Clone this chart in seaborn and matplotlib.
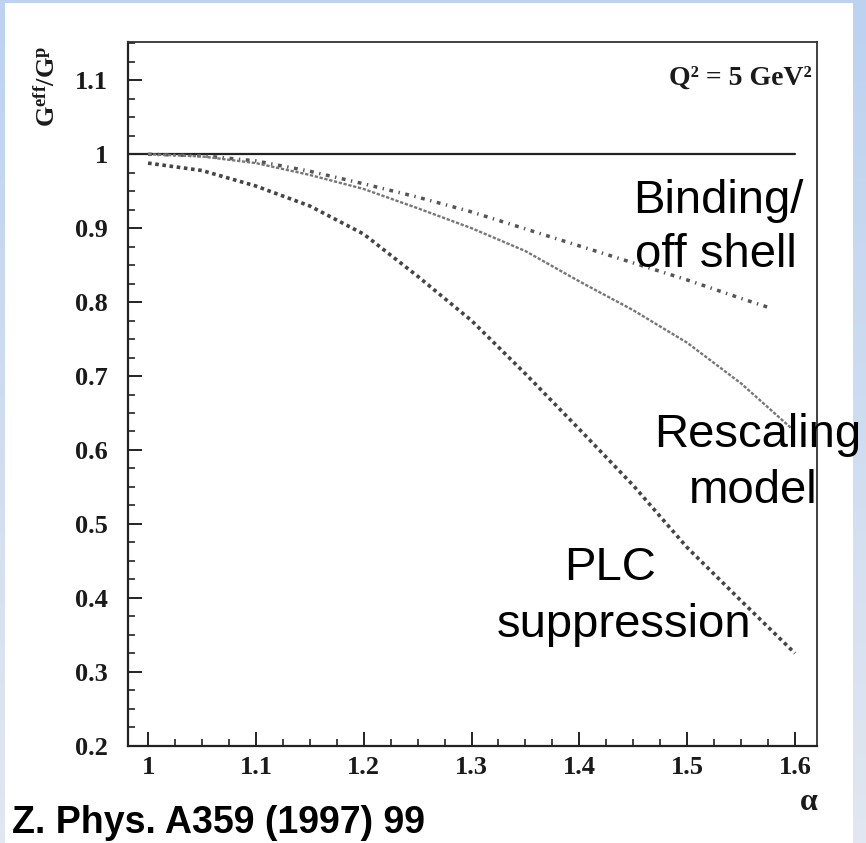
import numpy as np
import pandas as pd
import matplotlib
matplotlib.use("Agg")
import matplotlib.pyplot as plt
import seaborn as sns
from matplotlib.patches import Rectangle
from matplotlib.colors import LinearSegmentedColormap
from matplotlib.ticker import FixedLocator, FixedFormatter, MultipleLocator

# ---------------- data ----------------
alpha = [1.0, 1.05, 1.1, 1.15, 1.2, 1.25, 1.3, 1.35, 1.4, 1.45, 1.5, 1.55, 1.6]
rescaling = [1.0, 0.997, 0.988, 0.972, 0.953, 0.927, 0.900, 0.869, 0.828, 0.789, 0.745, 0.690, 0.625]
plc = [0.988, 0.978, 0.957, 0.930, 0.892, 0.835, 0.775, 0.703, 0.628, 0.552, 0.468, 0.396, 0.325]

alpha_binding = [1.0, 1.05, 1.1, 1.15, 1.2, 1.25, 1.3, 1.35, 1.4, 1.45, 1.5, 1.55, 1.575]
binding = [1.0, 0.998, 0.991, 0.977, 0.960, 0.942, 0.922, 0.899, 0.876, 0.853, 0.830, 0.805, 0.793]

ref_x = [0.98, 1.6]
ref_y = [1.0, 1.0]

xticks = [1.0, 1.1, 1.2, 1.3, 1.4, 1.5, 1.6]
xticklabels = ["1", "1.1", "1.2", "1.3", "1.4", "1.5", "1.6"]
yticks = [0.2, 0.3, 0.4, 0.5, 0.6, 0.7, 0.8, 0.9, 1.0, 1.1]
yticklabels = ["0.2", "0.3", "0.4", "0.5", "0.6", "0.7", "0.8", "0.9", "1", "1.1"]

# ---------------- style ----------------
sns.set_style("ticks")
plt.rcParams["font.family"] = ["Liberation Serif", "DejaVu Serif"]
plt.rcParams["mathtext.fontset"] = "custom"
plt.rcParams["mathtext.rm"] = "Liberation Serif:bold"
plt.rcParams["mathtext.bf"] = "Liberation Serif:bold"
plt.rcParams["mathtext.it"] = "Liberation Serif:bold:italic"

W, H = 866, 843
fig = plt.figure(figsize=(W / 100, H / 100), dpi=100)

# background: light blue gradient frame with white panel
bg = fig.add_axes([0, 0, 1, 1], zorder=-10)
grad = np.linspace(0, 1, 256)[:, None]
cmap = LinearSegmentedColormap.from_list("bg", ["#bcd2f0", "#e2e7f1"])
bg.imshow(grad, aspect="auto", cmap=cmap, extent=[0, 1, 0, 1], origin="upper")
bg.add_patch(Rectangle((5 / W, 0), 848 / W, 840 / H, transform=bg.transAxes,
                       facecolor="white", edgecolor="none"))
bg.set_xlim(0, 1)
bg.set_ylim(0, 1)
bg.axis("off")

# main axes
x0, x1 = 128, 817
y0, y1 = 42.3, 745.7
ax = fig.add_axes([x0 / W, (H - y1) / H, (x1 - x0) / W, (y1 - y0) / H])
ax.set_facecolor("none")

df_main = pd.DataFrame({"alpha": alpha, "Rescaling": rescaling, "PLC": plc})
df_bind = pd.DataFrame({"alpha": alpha_binding, "Binding": binding})
df_ref = pd.DataFrame({"alpha": ref_x, "ref": ref_y})

sns.lineplot(data=df_ref, x="alpha", y="ref", ax=ax, color="#222222", lw=1.6)
sns.lineplot(data=df_bind, x="alpha", y="Binding", ax=ax, color="#555555", lw=2.5,
             linestyle=(0, (1.1, 1.6, 0.4, 1.6)))
sns.lineplot(data=df_main, x="alpha", y="Rescaling", ax=ax, color="#777777", lw=1.7,
             linestyle=(0, (1.4, 0.7)))
sns.lineplot(data=df_main, x="alpha", y="PLC", ax=ax, color="#454545", lw=2.6,
             linestyle=(0, (1.0, 1.0)))

ax.set_xlim(0.9814, 1.6204)
ax.set_ylim(0.2, 1.1514)
ax.set_xlabel("")
ax.set_ylabel("")

ax.xaxis.set_major_locator(FixedLocator(xticks))
ax.xaxis.set_major_formatter(FixedFormatter(xticklabels))
ax.yaxis.set_major_locator(FixedLocator(yticks))
ax.yaxis.set_major_formatter(FixedFormatter(yticklabels))
ax.xaxis.set_minor_locator(MultipleLocator(0.025))
ax.yaxis.set_minor_locator(MultipleLocator(0.025))

ax.tick_params(which="both", direction="in", top=False, right=False, color="#222222")
ax.tick_params(which="major", length=10, width=1.4)
ax.tick_params(which="minor", length=5, width=1.2)
ax.tick_params(axis="y", which="major", pad=14.4)
ax.tick_params(axis="x", which="major", pad=7.5)
for lab in ax.get_xticklabels() + ax.get_yticklabels():
    lab.set_fontsize(19)
    lab.set_fontweight("bold")
    lab.set_color("#1a1a1a")

for s in ["left", "bottom"]:
    ax.spines[s].set_linewidth(1.6)
    ax.spines[s].set_color("#222222")
for s in ["top", "right"]:
    ax.spines[s].set_linewidth(1.3)
    ax.spines[s].set_color("#333333")


def fx(px):
    return px / W


def fy(py):
    return (H - py) / H


# axis titles
fig.text(fx(47), fy(86), "G$^{\\mathrm{eff}}$/G$^{\\mathrm{p}}$", rotation=90,
         ha="center", va="center", fontsize=19, fontweight="bold", color="#1a1a1a")
fig.text(fx(809), fy(803), "α", ha="center", va="center", fontsize=23,
         fontweight="bold", color="#1a1a1a")
fig.text(fx(812), fy(85), "Q² = 5 GeV²", ha="right", va="baseline", fontsize=20,
         fontweight="bold", color="#1a1a1a")

# annotations
sans = ["Liberation Sans", "DejaVu Sans"]
ann = dict(ha="center", va="baseline", fontsize=34, family=sans, color="black")
fig.text(fx(718), fy(213), "Binding/", **ann)
fig.text(fx(716), fy(267), "off shell", **ann)
fig.text(fx(758), fy(447), "Rescaling", **ann)
fig.text(fx(753), fy(503), "model", **ann)
fig.text(fx(610), fy(580), "PLC", **ann)
fig.text(fx(624), fy(637), "suppression", **ann)

fig.text(fx(12), fy(833), "Z. Phys. A359 (1997) 99", ha="left", va="baseline",
         fontsize=27, fontweight="bold", family=sans, color="black")

fig.savefig("out.png", dpi=100)
